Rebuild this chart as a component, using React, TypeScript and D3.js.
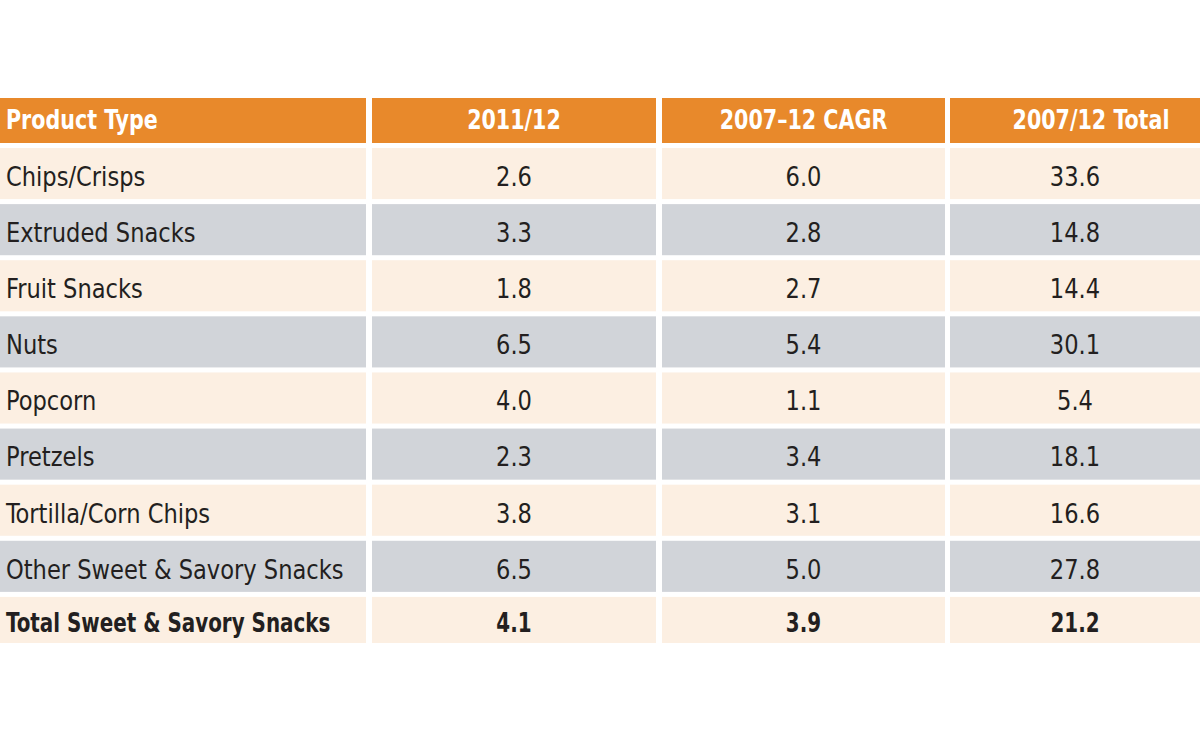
import React from "react";
import * as d3 from "d3";

const headers = ["Product Type", "2011/12", "2007–12 CAGR", "2007/12 Total"];
const productTypes = [
  "Chips/Crisps",
  "Extruded Snacks",
  "Fruit Snacks",
  "Nuts",
  "Popcorn",
  "Pretzels",
  "Tortilla/Corn Chips",
  "Other Sweet & Savory Snacks",
  "Total Sweet & Savory Snacks",
];
const growth2011 = ["2.6", "3.3", "1.8", "6.5", "4.0", "2.3", "3.8", "6.5", "4.1"];
const cagr0712 = ["6.0", "2.8", "2.7", "5.4", "1.1", "3.4", "3.1", "5.0", "3.9"];
const total0712 = ["33.6", "14.8", "14.4", "30.1", "5.4", "18.1", "16.6", "27.8", "21.2"];

const W = 1200;
const H = 743;
const colEdges: [number, number][] = [
  [0, 366],
  [372, 656],
  [662, 945],
  [950, 1200],
];
const headerShift = [0, 0, 0, 16];
const ORANGE = "#E8892B";
const BEIGE = "#FCEFE2";
const GREY = "#D1D4D9";
const TEXT = "#231F20";
const FONT = "'DejaVu Sans Condensed', 'DejaVu Sans', sans-serif";

export default function App() {
  const rowScale = d3
    .scaleBand<number>()
    .domain(d3.range(productTypes.length))
    .range([148, 648])
    .paddingInner(5 / 56)
    .paddingOuter(0);
  const rows = productTypes.map((p, i) => [p, growth2011[i], cagr0712[i], total0712[i]]);
  const headTop = 98;
  const headBot = 143;
  return (
    <svg
      width={W}
      height={H}
      style={{ position: "absolute", left: 0, top: 0, background: "#fff" }}
    >
      {colEdges.map(([x0, x1], c) => {
        const tx = (c === 0 ? 6 : (x0 + x1) / 2) + headerShift[c];
        return (
          <g key={"h" + c}>
            <rect x={x0} y={headTop} width={x1 - x0} height={headBot - headTop} fill={ORANGE} />
            <text
              x={tx}
              y={(headTop + headBot) / 2 - 1}
              textAnchor={c === 0 ? "start" : "middle"}
              dominantBaseline="central"
              fill="#fff"
              fontFamily={FONT}
              fontWeight="bold"
              fontSize={27}
              transform={`translate(${tx},0) scale(0.85,1) translate(${-tx},0)`}
            >
              {headers[c]}
            </text>
          </g>
        );
      })}
      {rows.map((row, i) => {
        const y = rowScale(i)!;
        const last = i === rows.length - 1;
        const h = last ? rowScale.bandwidth() - 5 : rowScale.bandwidth();
        return (
          <g key={"r" + i}>
            {colEdges.map(([x0, x1], c) => {
              const tx = c === 0 ? 6 : (x0 + x1) / 2;
              const sx = last ? 0.82 : 0.93;
              return (
                <g key={c}>
                  <rect x={x0} y={y} width={x1 - x0} height={h} fill={i % 2 === 0 ? BEIGE : GREY} />
                  <text
                    x={tx}
                    y={y + h / 2 + 3}
                    textAnchor={c === 0 ? "start" : "middle"}
                    dominantBaseline="central"
                    fill={TEXT}
                    fontFamily={FONT}
                    fontWeight={last ? "bold" : "normal"}
                    fontSize={27}
                    transform={`translate(${tx},0) scale(${sx},1) translate(${-tx},0)`}
                  >
                    {row[c]}
                  </text>
                </g>
              );
            })}
          </g>
        );
      })}
    </svg>
  );
}
